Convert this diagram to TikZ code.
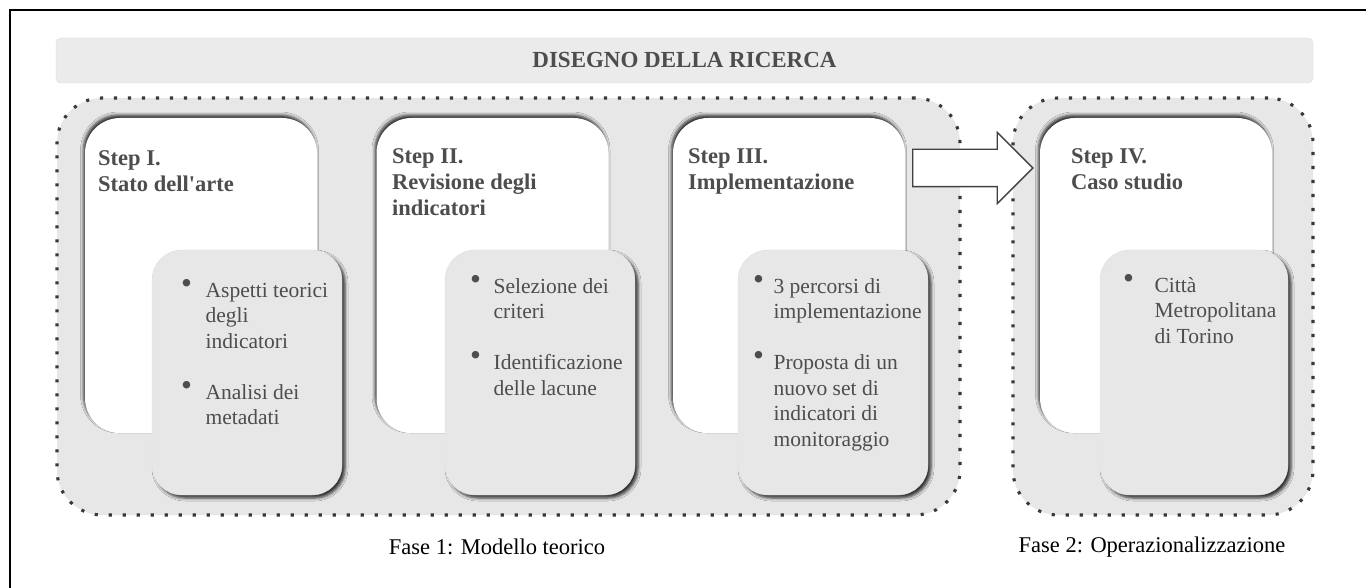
\documentclass[tikz,border=0pt]{standalone}
\usepackage{fontspec}
\usepackage{graphicx}
\setmainfont{Liberation Serif}[Ligatures=TeXOff]
\usetikzlibrary{shadows.blur,shapes.arrows}

\definecolor{boxgray}{HTML}{E7E7E7}
\definecolor{bargray}{HTML}{EBEBEB}
\definecolor{txtgray}{HTML}{4D4D4D}
\definecolor{dotgray}{HTML}{383838}

\newcommand{\rows}[1]{\begin{tabular}{@{}l@{}}#1\end{tabular}}
\newcommand{\blist}[2]{\begin{tabular}{@{}l@{\hspace{#1}}l@{}}#2\end{tabular}}
\newcommand{\bul}{\raisebox{4pt}{\scalebox{1.45}{\textbullet}}}

\tikzset{
  phase/.style={draw=dotgray, fill=boxgray, line width=3.1pt,
    dash pattern=on 3.1pt off 10.9pt, rounded corners=45pt,
    inner sep=0pt, outer sep=0pt},
  stepbox/.style={fill=white, rounded corners=35pt, inner sep=0pt,
    minimum width=232pt, minimum height=315pt,
    blur shadow={shadow xshift=-1.5pt, shadow yshift=3pt,
      shadow blur radius=3pt, shadow opacity=80}},
  listbox/.style={fill=boxgray, draw=black!12, rounded corners=30pt,
    inner sep=0pt, minimum width=190pt, minimum height=245pt,
    blur shadow={shadow xshift=3pt, shadow yshift=-3pt,
      shadow blur radius=3pt, shadow opacity=80}},
  steptext/.style={anchor=north west, inner sep=0pt, text=txtgray,
    font=\fontsize{22.5}{26}\selectfont\bfseries},
  listtext/.style={anchor=north west, inner sep=0pt, text=txtgray,
    font=\fontsize{21.5}{25.5}\selectfont},
  fasetext/.style={inner sep=0pt, font=\fontsize{22.5}{26}\selectfont}
}

\begin{document}
\begin{tikzpicture}[x=1pt,y=-1pt]
  \useasboundingbox (0,0) rectangle (1366,588);
  \draw[line width=2pt] (10,10) rectangle (1400,620);

  % title bar
  \node[fill=bargray, draw=black!15, rounded corners=5pt, inner sep=0pt,
    minimum width=1257pt, minimum height=45pt] (title) at (684.5,60.5) {};
  \node[text=txtgray, font=\fontsize{23}{26}\selectfont\bfseries]
    at (title.center) {DISEGNO DELLA RICERCA};

  % phases
  \node[phase, minimum width=903pt, minimum height=417pt] (phase1) at (508.5,306.5) {};
  \node[phase, minimum width=300pt, minimum height=417pt] (phase2) at (1163,306.5) {};

  % steps
  \node[stepbox] (step1) at (201,275.5) {};
  \node[stepbox] (step2) at (492.5,275.5) {};
  \node[stepbox] (step3) at (789,275.5) {};
  \node[stepbox] (step4) at (1156,275.5) {};

  \node[listbox] (list1) at (247,372.5) {};
  \node[listbox] (list2) at (540,372.5) {};
  \node[listbox] (list3) at (833,372.5) {};
  \node[listbox, minimum width=188pt] (list4) at (1194,372.5) {};

  % arrow between phases
  \node[single arrow, draw=black!75, fill=white, line width=1.3pt,
    minimum height=120pt, minimum width=70pt, inner xsep=0pt, inner ysep=18pt,
    single arrow head extend=17pt, single arrow head indent=0pt]
    (link) at (963.5,168) {};

  % texts
  \node[steptext] (s1) at (98,147) {\rows{Step I.\\Stato dell'arte}};
  \node[steptext] (s2) at (392,145) {\rows{Step II.\\Revisione degli\\indicatori}};
  \node[steptext] (s3) at (688,145) {\rows{Step III.\\Implementazione}};
  \node[steptext] (s4) at (1071,145) {\rows{Step IV.\\Caso studio}};

  \node[listtext] (b1) at (181,279) {\blist{13.5pt}{\bul & Aspetti teorici\\ & degli\\ & indicatori\\ \\ \bul & Analisi dei\\ & metadati}};
  \node[listtext] (b2) at (470,275) {\blist{12.5pt}{\bul & Selezione dei\\ & criteri\\ \\ \bul & Identificazione\\ & delle lacune}};
  \node[listtext] (b3) at (753,275) {\blist{9.5pt}{\bul & 3 percorsi di\\ & implementazione\\ \\ \bul & Proposta di un\\ & nuovo set di\\ & indicatori di\\ & monitoraggio}};
  \node[listtext] (b4) at (1123,274) {\blist{20.5pt}{\bul & Città\\ & Metropolitana\\ & di Torino}};

  \node[fasetext] (fase1) at (497,547) {Fase 1: Modello teorico};
  \node[fasetext] (fase2) at (1152,547) {Fase 2: Operazionalizzazione};
\end{tikzpicture}
\end{document}
